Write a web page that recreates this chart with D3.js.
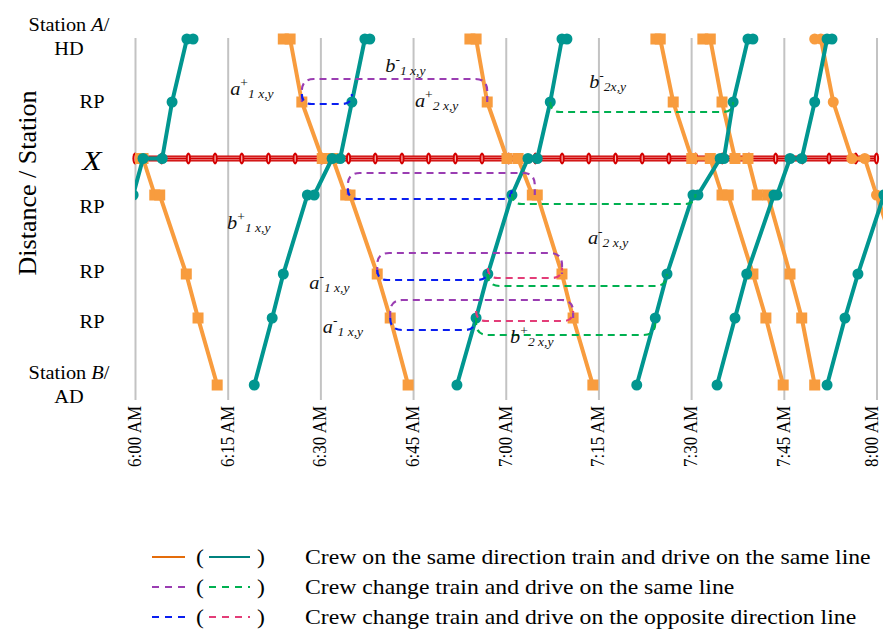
<!DOCTYPE html>
<html>
<head>
<meta charset="utf-8">
<script src="https://cdn.jsdelivr.net/npm/d3@7"></script>
<style>
  body { margin: 0; background: #fff; }
  svg { display: block; font-family: "Liberation Serif", "Times New Roman", serif; }
</style>
</head>
<body>
<svg id="chart" width="883" height="635"></svg>
<script>
// ---- line geometry: stations from Station A (top) to Station B (bottom) ----
const stationIds = ["A", "RP1", "X", "RP2", "RP3", "RP4", "B"];
const stationKm  = [0, 6.3, 11.95, 15.6, 23.5, 27.9, 34.6];

// ---- time axis ----
const timeTicks = ["6:00", "6:15", "6:30", "6:45", "7:00", "7:15", "7:30", "7:45", "8:00"];

// ---- timetables: [minutes after 6:00, station index] ----
// down trains (A -> B)
const downTrain1 = [[0.1,2],[1.3,2],[3.2,3],[4.0,3],[8.3,4],[10.2,5],[13.3,6]];
const downTrain2 = [[24.0,0],[25.1,0],[27.0,1],[30.3,2],[32.0,2],[34.1,3],[34.8,3],[39.2,4],[41.3,5],[44.2,6]];
const downTrain3 = [[54.2,0],[55.2,0],[57.0,1],[60.2,2],[62.0,2],[64.3,3],[65.1,3],[69.1,4],[70.9,5],[74.1,6]];
const downTrain4 = [[84.3,0],[85.0,0],[87.1,1],[90.1,2],[93.1,2],[95.0,3],[96.0,3],[100.0,4],[102.1,5],[104.9,6]];
const downTrain5 = [[91.9,0],[93.1,0],[95.0,1],[97.1,2],[99.2,2],[100.7,3],[102.4,3],[106.0,4],[107.9,5],[110.0,6]];
const downTrain6 = [[110.0,0],[111.0,0],[113.0,1],[116.0,2],[118.1,2],[120.0,3],[124.3,4]];
// up trains (B -> A)
const upTrain1 = [[-0.3,3],[1.3,2],[4.4,2],[6.0,1],[8.4,0],[9.4,0]];
const upTrain2 = [[19.3,6],[22.2,5],[24.0,4],[27.9,3],[29.0,3],[31.9,2],[33.2,2],[35.1,1],[37.2,0],[38.0,0]];
const upTrain3 = [[52.1,6],[55.2,5],[57.1,4],[61.0,3],[63.6,2],[65.1,2],[67.2,1],[69.1,0],[69.9,0]];
const upTrain4 = [[81.2,6],[84.2,5],[86.1,4],[90.3,3],[91.1,3],[94.7,2],[95.3,2],[96.8,1],[99.2,0],[100.0,0]];
const upTrain5 = [[94.2,6],[97.1,5],[99.0,4],[103.4,3],[103.9,3],[106.0,2],[107.9,2],[110.0,1],[112.0,0],[112.8,0]];
const upTrain6 = [[112.0,6],[114.9,5],[117.0,4],[121.2,3]];

// sleepers of the track symbol at station X (minutes after 6:00)
const trackSleepers = [0, 4.32, 8.64, 12.96, 17.28, 21.6, 25.92, 30.24, 34.56, 38.88, 43.2, 47.52,
  51.84, 56.16, 60.48, 64.8, 69.12, 73.44, 77.76, 82.08, 86.4, 90.72, 95.04, 99.36, 103.68,
  108, 112.32, 116.64, 120];

// crew changes: [from train, station index, to train, kind]
const crewLinks = [
  ["D2", 1, "D3", "sameDown"],
  ["D2", 1, "U2", "oppDown"],
  ["U3", 1, "U4", "sameUp"],
  ["D2", 3, "D3", "sameDown"],
  ["D2", 3, "U3", "oppDown"],
  ["U3", 3, "U4", "sameUp"],
  ["D2", 4, "D3", "sameDown"],
  ["D2", 4, "U3", "oppDown"],
  ["U3", 4, "D3", "oppUp"],
  ["U3", 4, "U4", "sameUp"],
  ["D2", 5, "D3", "sameDown"],
  ["D2", 5, "U3", "oppDown"],
  ["U3", 5, "D3", "oppUp"],
  ["U3", 5, "U4", "sameUp"]
];

// crew-change labels: letter, sign, subscript, minutes, km
const crewLabels = [
  ["a", "+", "1 x,y", 15.4, 5.6],
  ["b", "-", "1 x,y", 40.5, 3.3],
  ["a", "+", "2 x,y", 45.3, 6.8],
  ["b", "-", "2x,y", 73.5, 4.9],
  ["b", "+", "1 x,y", 14.9, 19.0],
  ["a", "-", "2 x,y", 73.3, 20.5],
  ["a", "-", "1 x,y", 28.2, 25.0],
  ["a", "-", "1 x,y", 30.4, 29.4],
  ["b", "+", "2 x,y", 60.7, 30.4]
];

// legend rows
const legendRows = [
  ["solidDown", "solidUp", "Crew on the same direction train and drive on the same line"],
  ["sameDown", "sameUp", "Crew change train and drive on the same line"],
  ["oppDown", "oppUp", "Crew change train and drive on the opposite direction line"]
];

// ---- layout & styles ----
const SX = 1.13;                      // horizontal set width of the lettering
const W = 883;
const plot = { left: 135, right: 876.5, top: 39, bottom: 385, gridTop: 38, gridBottom: 400 };
const stationLabelNudge = [-2, 0, 1.5, 12, -2, 4, 0];
const linkLift = [-23, 2, 10, -22, 4, 9, -21, 6, 4, 12, -18, 12, 3, 17];
const ORANGE = "#f89c3e", TEAL = "#019690";
const styles = {
  solidDown: { stroke: "#e46c0a", dash: null },
  solidUp:   { stroke: "#00827e", dash: null },
  sameDown:  { stroke: "#9a3db2", dash: "7,5" },
  sameUp:    { stroke: "#00b050", dash: "7,5" },
  oppDown:   { stroke: "#0a1ef0", dash: "7,5" },
  oppUp:     { stroke: "#e33d78", dash: "7,5" }
};

const trains = {
  D1: downTrain1, D2: downTrain2, D3: downTrain3, D4: downTrain4, D5: downTrain5, D6: downTrain6,
  U1: upTrain1, U2: upTrain2, U3: upTrain3, U4: upTrain4, U5: upTrain5, U6: upTrain6
};

const base = new Date(2024, 0, 1, 6, 0, 0);
const at = m => new Date(base.getTime() + m * 60000);
const parseClock = d3.timeParse("%Y-%m-%d %H:%M");

const x = d3.scaleTime().domain([at(0), at(120)]).range([plot.left, plot.right]);
const y = d3.scaleLinear().domain([0, stationKm[stationKm.length - 1]]).range([plot.top, plot.bottom]);

const svg = d3.select("#chart");

svg.append("defs").append("clipPath").attr("id", "plotClip")
  .append("rect").attr("x", plot.left).attr("y", 0).attr("width", 900).attr("height", 420);

// ---- vertical gridlines and rotated time labels ----
const tickDates = timeTicks.map(s => parseClock("2024-01-01 " + s));
const gx = svg.append("g")
  .attr("transform", `translate(0,${plot.gridBottom})`)
  .call(d3.axisBottom(x).tickValues(tickDates).tickFormat(d3.timeFormat("%-I:%M %p"))
    .tickSize(-(plot.gridBottom - plot.gridTop)));
gx.attr("font-family", null).attr("font-size", null);
gx.select(".domain").remove();
gx.selectAll(".tick line").attr("stroke", "#c3c3c3").attr("stroke-width", 2);
gx.selectAll(".tick text")
  .attr("transform", `scale(${SX},1) rotate(-90)`)
  .attr("text-anchor", "end")
  .attr("x", -6).attr("y", 0).attr("dy", "0.28em")
  .attr("font-size", 17).attr("fill", "#000");
// keep the last rotated label inside the drawing
gx.selectAll(".tick text").each(function () {
  const box = this.getBoundingClientRect();
  const over = box.right - (W - 1);
  if (over > 0) d3.select(this).attr("transform", `translate(${-over},0) scale(${SX},1) rotate(-90)`);
});

// ---- track symbol at station X ----
const yX = y(stationKm[2]);
const track = svg.append("g");
const trackX1 = x(at(trackSleepers[0])), trackX2 = x(at(trackSleepers[trackSleepers.length - 1]));
track.append("line")
  .attr("x1", trackX1).attr("x2", trackX2)
  .attr("y1", yX).attr("y2", yX).attr("stroke", "#d00000").attr("stroke-width", 6);
[-1.2, 1.2].forEach(o => track.append("line")
  .attr("x1", trackX1).attr("x2", trackX2)
  .attr("y1", yX + o).attr("y2", yX + o).attr("stroke", "#f3b5b5").attr("stroke-width", 0.7));
track.selectAll("ellipse.sleeper").data(trackSleepers).join("ellipse")
  .attr("class", "sleeper")
  .attr("cx", d => x(at(d))).attr("cy", yX).attr("rx", 2.6).attr("ry", 6)
  .attr("fill", "#d40000");
track.selectAll("ellipse.slit").data(trackSleepers).join("ellipse")
  .attr("class", "slit")
  .attr("cx", d => x(at(d))).attr("cy", yX).attr("rx", 0.6).attr("ry", 3.6)
  .attr("fill", "#f6c4c4");

// ---- train paths ----
const trainLine = d3.line().x(d => x(at(d[0]))).y(d => y(stationKm[d[1]]));
const trainLayer = svg.append("g").attr("clip-path", "url(#plotClip)");
Object.entries(trains).forEach(([id, pts]) => {
  const down = id[0] === "D";
  const color = down ? ORANGE : TEAL;
  const g = trainLayer.append("g");
  g.append("path").attr("d", trainLine(pts)).attr("fill", "none")
    .attr("stroke", color).attr("stroke-width", 4).attr("stroke-linejoin", "round");
  if (down && id !== "D6") {
    g.selectAll("rect").data(pts).join("rect")
      .attr("x", d => x(at(d[0])) - 5.5).attr("y", d => y(stationKm[d[1]]) - 5.5)
      .attr("width", 11).attr("height", 11).attr("fill", color);
  } else {
    g.selectAll("circle").data(pts).join("circle")
      .attr("cx", d => x(at(d[0]))).attr("cy", d => y(stationKm[d[1]]))
      .attr("r", 5.5).attr("fill", color);
  }
});

// ---- crew-change connectors ----
const stopTime = (id, s) => d3.mean(trains[id].filter(p => p[1] === s), p => p[0]);
const connLayer = svg.append("g").attr("fill", "none").attr("stroke-width", 2.2);
crewLinks.forEach(([a, s, b, kind], i) => {
  const x1 = x(at(stopTime(a, s))), x2 = x(at(stopTime(b, s)));
  const ys = y(stationKm[s]);
  const lift = linkLift[i];
  const yb = ys + lift;
  const sg = Math.sign(lift);
  const L = Math.max(10, Math.abs(lift));
  const r = Math.min(12, L);
  const p = d3.path();
  p.moveTo(x1, yb - sg * L);
  p.lineTo(x1, yb - sg * r);
  p.quadraticCurveTo(x1, yb, x1 + r, yb);
  p.lineTo(x2 - r, yb);
  p.quadraticCurveTo(x2, yb, x2, yb - sg * r);
  p.lineTo(x2, yb - sg * L);
  connLayer.append("path").attr("d", p.toString())
    .attr("stroke", styles[kind].stroke).attr("stroke-dasharray", styles[kind].dash);
});

// ---- crew-change labels ----
crewLabels.forEach(([letter, sign, sub, m, km]) => {
  const t = svg.append("text")
    .attr("transform", `translate(${x(at(m))},${y(km)}) scale(${SX},1)`)
    .attr("font-style", "italic").attr("fill", "#111");
  t.append("tspan").attr("font-size", 18).text(letter);
  t.append("tspan").attr("font-size", 12).attr("font-style", "normal").attr("dy", -8).text(sign);
  t.append("tspan").attr("font-size", 12).attr("dy", 11).text(sub);
});

// ---- station labels ----
const stationLabels = [
  [[["Station ", false], ["A", true], ["/", false]], [["HD", false]]],
  [[["RP", false]]],
  [[["X", true]]],
  [[["RP", false]]],
  [[["RP", false]]],
  [[["RP", false]]],
  [[["Station ", false], ["B", true], ["/", false]], [["AD", false]]]
];
stationLabels.forEach((lines, i) => {
  const cy = y(stationKm[i]) + stationLabelNudge[i];
  const big = lines.length === 1 && lines[0][0][1];
  const fs = big ? 28 : 18;
  const lh = 23.5;
  lines.forEach((runs, j) => {
    const cx = lines.length > 1 ? 69 : 92;
    const by = cy + (j - (lines.length - 1) / 2) * lh + fs * 0.34;
    const t = svg.append("text")
      .attr("transform", `translate(${cx},${by}) scale(${SX},1)`)
      .attr("text-anchor", "middle").attr("font-size", fs).attr("fill", "#000");
    runs.forEach(([s, it]) => t.append("tspan").attr("font-style", it ? "italic" : "normal").text(s));
  });
});

// axis title
svg.append("text")
  .attr("transform", `translate(36,${(90 + 276) / 2}) rotate(-90)`)
  .attr("text-anchor", "middle").attr("font-size", 26).attr("fill", "#000")
  .text("Distance / Station");

// ---- legend ----
const legend = svg.append("g").attr("transform", "translate(0,557)");
legendRows.forEach(([k1, k2, label], i) => {
  const g = legend.append("g").attr("transform", `translate(0,${i * 30})`);
  g.append("line").attr("x1", 152).attr("x2", 185).attr("y1", 0).attr("y2", 0)
    .attr("stroke", styles[k1].stroke).attr("stroke-width", 2.2).attr("stroke-dasharray", styles[k1].dash ? "7,6" : null);
  g.append("line").attr("x1", 209).attr("x2", 250).attr("y1", 0).attr("y2", 0)
    .attr("stroke", styles[k2].stroke).attr("stroke-width", 2.2).attr("stroke-dasharray", styles[k2].dash ? "7,6" : null);
  g.append("text").attr("transform", `translate(196,7) scale(${SX},1)`).attr("font-size", 21).text("(");
  g.append("text").attr("transform", `translate(257,7) scale(${SX},1)`).attr("font-size", 21).text(")");
  g.append("text").attr("transform", `translate(305,7) scale(${SX},1)`).attr("font-size", 21).text(label);
});
</script>
</body>
</html>
